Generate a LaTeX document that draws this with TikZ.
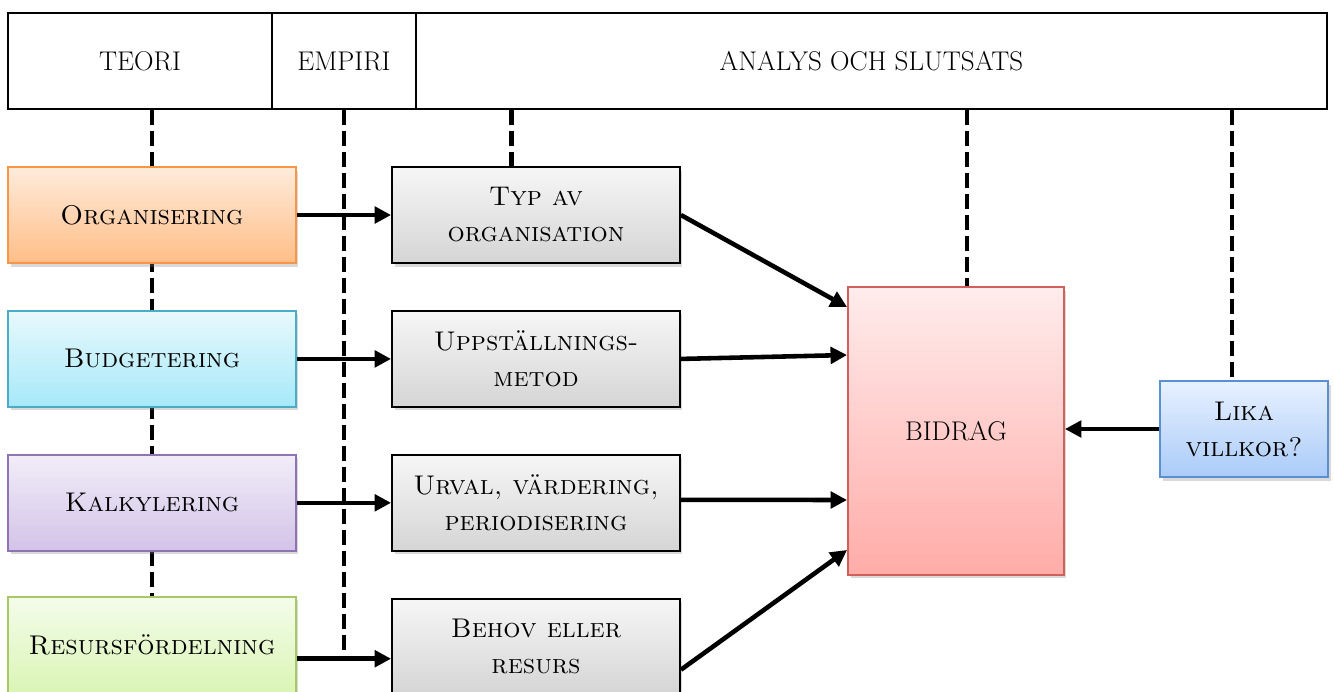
\documentclass[tikz,border=0pt]{standalone}
\usetikzlibrary{positioning, arrows.meta, shadows, backgrounds}

\definecolor{orgline}{HTML}{F79646}
\definecolor{orgtop}{HTML}{FFEBDC}
\definecolor{orgbot}{HTML}{FFBE88}
\definecolor{budline}{HTML}{4BACC6}
\definecolor{budtop}{HTML}{E8F9FD}
\definecolor{budbot}{HTML}{A6E8F8}
\definecolor{kalline}{HTML}{8E74B2}
\definecolor{kaltop}{HTML}{F1EDF8}
\definecolor{kalbot}{HTML}{D3C3E8}
\definecolor{resline}{HTML}{A8C868}
\definecolor{restop}{HTML}{F4FCEA}
\definecolor{resbot}{HTML}{DAF5B5}
\definecolor{bidline}{HTML}{D0605C}
\definecolor{bidtop}{HTML}{FFECEC}
\definecolor{bidbot}{HTML}{FFACA8}
\definecolor{likline}{HTML}{5B8FD0}
\definecolor{liktop}{HTML}{E8F1FF}
\definecolor{likbot}{HTML}{AACBF8}

\begin{document}
\begin{tikzpicture}[x=0.02cm, y=-0.02cm, font=\fontsize{15.4}{20.5}\selectfont,
    node distance=0.92cm,
    head/.style={draw, line width=0.9pt, minimum height=1.92cm, inner sep=0pt},
    box/.style={draw, line width=1.1pt, minimum width=5.76cm, minimum height=1.92cm,
        align=center, inner sep=2pt,
        drop shadow={shadow xshift=0.05cm, shadow yshift=-0.07cm, opacity=0.3}},
    tint/.style={draw=#1line, top color=#1top, bottom color=#1bot},
    empbox/.style={box, draw=black, top color=gray!7, bottom color=gray!33},
    link/.style={line width=2.6pt, -{Triangle[length=0.33cm, width=0.33cm]}},
    guide/.style={line width=2.8pt, dash pattern=on 0.3cm off 0.12cm}]

    \useasboundingbox (0,0) rectangle (1334,691);
    \clip (0,0) rectangle (1334,691);

    % rubriker
    \node[head, minimum width=5.28cm] (teori) at (140,61) {TEORI};
    \node[head, minimum width=2.88cm] (empiri) at (344,61) {EMPIRI};
    \node[head, minimum width=18.22cm] (analys) at (871.5,61) {ANALYS OCH SLUTSATS};

    % teori
    \node[box, tint=org] (org) at (152,215) {\textsc{Organisering}};
    \node[box, tint=bud, below=of org] (bud) {\textsc{Budgetering}};
    \node[box, tint=kal, below=of bud] (kal) {\textsc{Kalkylering}};
    \node[box, tint=res, below=0.88cm of kal] (res) {\textsc{Resursfördelning}};

    % empiri
    \node[empbox] (typ) at (536,215) {\textsc{Typ av}\\\textsc{organisation}};
    \node[empbox, below=of typ] (upp) {\textsc{Uppställnings-}\\\textsc{metod}};
    \node[empbox, below=of upp] (urv) {\textsc{Urval, värdering,}\\\textsc{periodisering}};
    \node[empbox, below=of urv] (beh) {\textsc{Behov eller}\\\textsc{resurs}};

    % analys
    \node[box, tint=bid, minimum width=4.32cm, minimum height=5.76cm] (bidrag) at (956,431) {BIDRAG};
    \node[box, tint=lik, minimum width=3.36cm] (lika) at (1244,429) {\textsc{Lika}\\\textsc{villkor?}};

    \coordinate (resout) at ([yshift=-0.28cm]res.east);
    \coordinate (typtop) at ([xshift=2.4cm]typ.north west);
    \coordinate (bidtop) at ([xshift=0.22cm]bidrag.north);
    \coordinate (liktop) at ([xshift=-0.24cm]lika.north);

    \draw[link] (org) -- (typ);
    \draw[link] (bud) -- (upp);
    \draw[link] (kal) -- (urv);
    \draw[link] (resout) -- (resout -| beh.west);

    \draw[link] (typ.east) -- ([yshift=-0.42cm]bidrag.north west);
    \draw[link] (upp.east) -- ([yshift=1.52cm]bidrag.west);
    \draw[link] ([yshift=0.06cm]urv.east) -- ([yshift=-1.38cm]bidrag.west);
    \draw[link] ([yshift=-0.46cm]beh.east) -- ([yshift=-2.38cm]bidrag.west);
    \draw[link] (lika.west) -- (lika.west -| bidrag.east);

    \begin{pgfonlayer}{background}
        \draw[guide] (teori.south -| org.north) -- (res.north);
        \draw[guide] (empiri.south) -- (empiri.south |- resout);
        \draw[guide] (typtop |- analys.south) -- (typtop);
        \draw[guide] (bidtop |- analys.south) -- (bidtop);
        \draw[guide] (liktop |- analys.south) -- (liktop);
    \end{pgfonlayer}
\end{tikzpicture}
\end{document}
